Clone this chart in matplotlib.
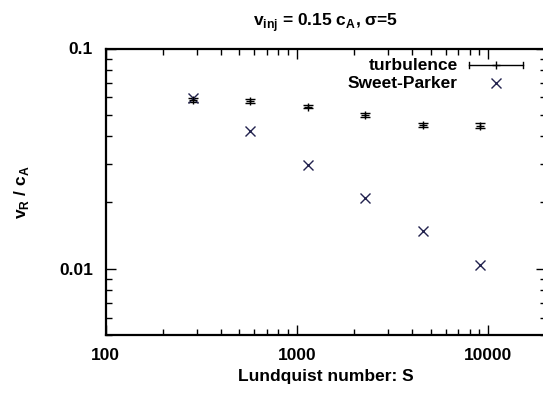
import matplotlib
matplotlib.use("Agg")
import matplotlib.pyplot as plt
from matplotlib.ticker import FixedLocator, FixedFormatter, LogLocator, NullFormatter
from matplotlib.lines import Line2D

plt.rcParams['font.family'] = ['Liberation Sans', 'DejaVu Sans']
plt.rcParams['mathtext.fontset'] = 'custom'
plt.rcParams['mathtext.bf'] = 'Liberation Sans:bold'
plt.rcParams['mathtext.rm'] = 'Liberation Sans'

# data
S_turb = [285, 570, 1140, 2280, 4560, 9120]
v_turb = [0.0585, 0.0578, 0.0545, 0.0499, 0.0450, 0.0446]
v_turb_err = [0.0012, 0.0012, 0.0011, 0.0010, 0.0010, 0.0011]
S_sp = [285, 570, 1140, 2280, 4560, 9120]
v_sp = [0.0596, 0.0423, 0.0297, 0.0209, 0.01487, 0.01043]

xticks = [100, 1000, 10000]
xticklabels = ["100", "1000", "10000"]
yticks = [0.01, 0.1]
yticklabels = ["0.01", "0.1"]

sp_color = "#22224e"

fig = plt.figure(figsize=(5.43, 3.94), dpi=100)
ax = fig.add_axes([105.5/543, 59/394, 440.2/543, 286.5/394])

ax.errorbar(S_turb, v_turb, yerr=v_turb_err, fmt='+', color='black', ms=6, mew=1,
            elinewidth=1, capsize=3.5, capthick=1)
ax.plot(S_sp, v_sp, 'x', color=sp_color, ms=7, mew=1)

ax.set_xscale('log')
ax.set_yscale('log')
ax.set_xlim(100, 20000)
ax.set_ylim(0.005, 0.1)

fs = 12.5
ax.xaxis.set_major_locator(FixedLocator(xticks))
ax.xaxis.set_major_formatter(FixedFormatter(xticklabels))
ax.xaxis.set_minor_locator(LogLocator(base=10, subs=range(2, 10)))
ax.xaxis.set_minor_formatter(NullFormatter())
ax.yaxis.set_major_locator(FixedLocator(yticks))
ax.yaxis.set_major_formatter(FixedFormatter(yticklabels))
ax.yaxis.set_minor_locator(LogLocator(base=10, subs=range(2, 10)))
ax.yaxis.set_minor_formatter(NullFormatter())

ax.tick_params(which='both', direction='in', top=True, right=True, width=1, labelsize=fs)
ax.tick_params(which='major', length=7, pad=9)
ax.tick_params(which='minor', length=4)
for lab in ax.get_xticklabels() + ax.get_yticklabels():
    lab.set_fontweight('bold')
for sp in ax.spines.values():
    sp.set_linewidth(1.6)

ax.set_xlabel("Lundquist number: S", fontsize=fs, fontweight='bold', labelpad=5)
ax.set_ylabel(r"v$_\mathbf{R}$ / c$_\mathbf{A}$", fontsize=fs, fontweight='bold', labelpad=20)
ax.set_title(r"v$_\mathbf{inj}$ = 0.15 c$_\mathbf{A}$, $\mathbf{\sigma}$=5", fontsize=fs,
             fontweight='bold', pad=16)

# manual key (gnuplot-style)
tr = ax.transAxes
def ax_xy(px, py):
    x0, y0 = 105.5, 335.0
    return ((px - x0) / 440.2, (y0 - py) / 286.5)

tx, ty1 = ax_xy(458, 65)
_, ty2 = ax_xy(458, 83)
ax.text(tx, ty1, "turbulence", transform=tr, ha='right', va='center', fontsize=fs, fontweight='bold')
ax.text(tx, ty2, "Sweet-Parker", transform=tr, ha='right', va='center', fontsize=fs, fontweight='bold')
lx0, _ = ax_xy(469, 65)
lx1, _ = ax_xy(523, 65)
lxm, _ = ax_xy(496, 65)
ax.add_line(Line2D([lx0, lx1], [ty1, ty1], transform=tr, color='black', lw=1))
ax.add_line(Line2D([lx0, lx0], [ty1 - 0.012, ty1 + 0.012], transform=tr, color='black', lw=1))
ax.add_line(Line2D([lx1, lx1], [ty1 - 0.012, ty1 + 0.012], transform=tr, color='black', lw=1))
ax.add_line(Line2D([lxm], [ty1], transform=tr, marker='+', color='black', ms=6, mew=1))
ax.add_line(Line2D([lxm], [ty2], transform=tr, marker='x', color=sp_color, ms=7, mew=1))

fig.savefig("out.png", dpi=100)
